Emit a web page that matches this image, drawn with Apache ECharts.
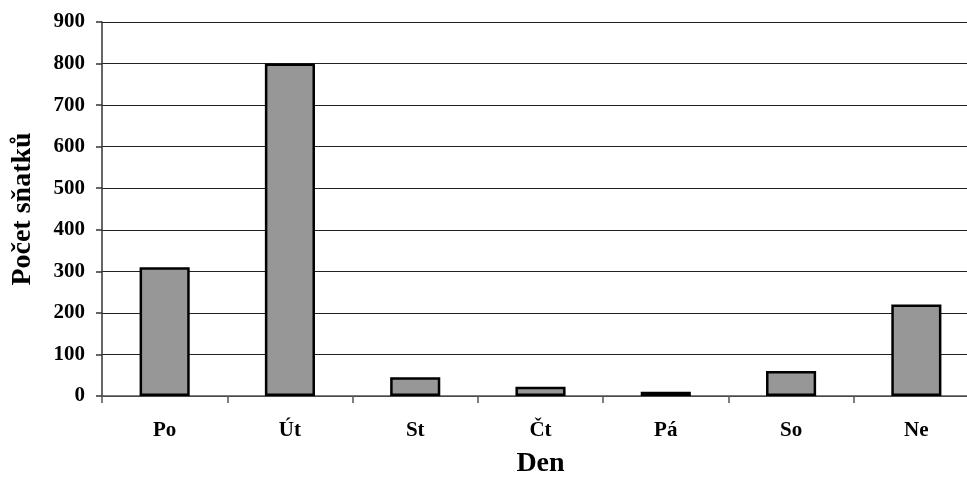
<!DOCTYPE html>
<html><head><meta charset="utf-8">
<script src="https://cdn.jsdelivr.net/npm/echarts@6/dist/echarts.min.js"></script>
<style>html,body{margin:0;padding:0;background:#fff}#c{width:967px;height:486px}</style>
</head><body><div id="c"></div>
<script>
var categories = ['Po', 'Út', 'St', 'Čt', 'Pá', 'So', 'Ne'];
var values = [310, 800, 45, 22, 10, 60, 220];
var yMin = 0, yMax = 900, yStep = 100;

var font = '"Liberation Serif", "Times New Roman", serif';
var chart = echarts.init(document.getElementById('c'));
chart.setOption({
  animation: false,
  backgroundColor: '#fff',
  grid: { left: 102, top: 22, width: 877, height: 374, containLabel: false, outerBoundsMode: 'none' },
  xAxis: {
    type: 'category',
    data: categories,
    boundaryGap: true,
    name: 'Den',
    nameLocation: 'middle',
    nameGap: 54,
    nameTextStyle: { fontFamily: font, fontWeight: 'bold', fontSize: 28, color: '#000' },
    axisLine: { lineStyle: { color: '#555', width: 1.5 } },
    axisTick: { show: true, alignWithLabel: false, length: 7, lineStyle: { color: '#555', width: 1.5 } },
    axisLabel: { fontFamily: font, fontWeight: 'bold', fontSize: 21, color: '#000', margin: 24 },
    splitLine: { show: false }
  },
  yAxis: {
    type: 'value',
    min: yMin, max: yMax, interval: yStep,
    name: 'Počet sňatků',
    nameLocation: 'middle',
    nameGap: 65,
    nameTextStyle: { fontFamily: font, fontWeight: 'bold', fontSize: 28, color: '#000' },
    axisLine: { show: true, lineStyle: { color: '#333', width: 1.5 } },
    axisTick: { show: true, length: 6, lineStyle: { color: '#333', width: 1.5 } },
    axisLabel: { fontFamily: font, fontWeight: 'bold', fontSize: 21, color: '#000', margin: 17 },
    splitLine: { show: true, lineStyle: { color: '#222', width: 1 } }
  },
  series: [{
    type: 'bar',
    data: values,
    barWidth: '40%',
    itemStyle: { color: '#979797', borderColor: '#000', borderWidth: 2.5 }
  }]
});
</script></body></html>
